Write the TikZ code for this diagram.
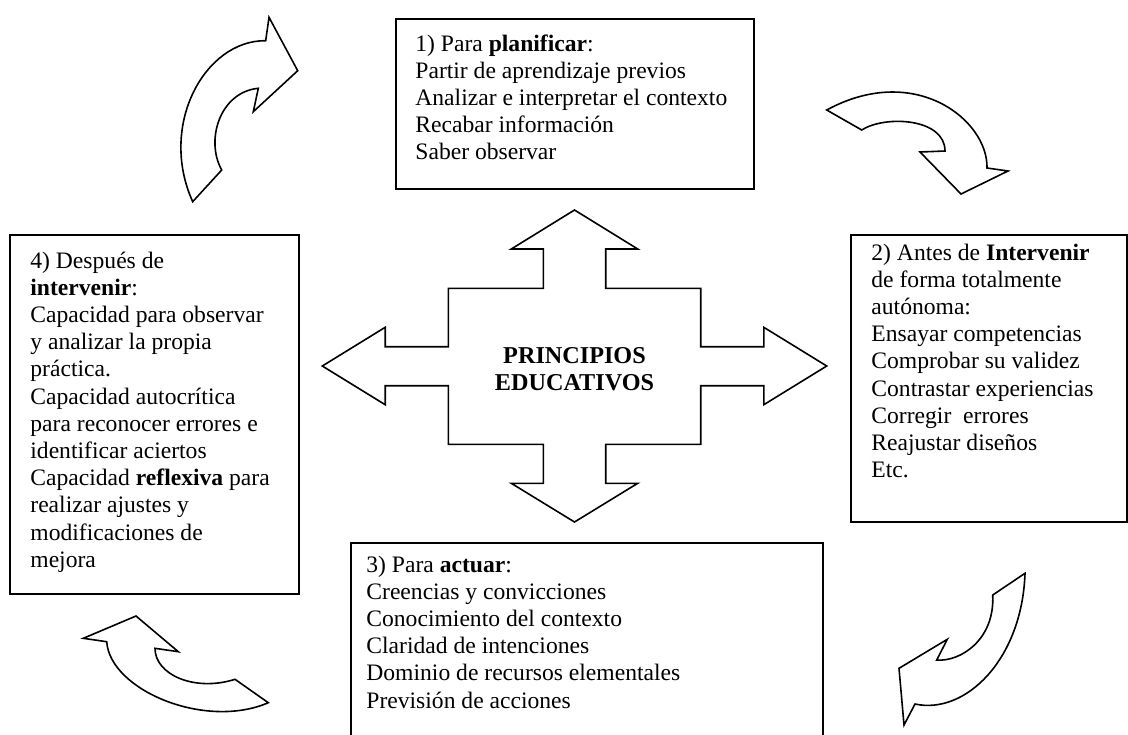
\documentclass[tikz,border=0pt]{standalone}
\usepackage{fontspec}
\setmainfont{Liberation Serif}
\usetikzlibrary{positioning}

\begin{document}
\begin{tikzpicture}[x=0.5pt, y=-0.5pt,
    box/.style n args={2}{draw, line width=0.8pt, minimum width=#1, minimum height=#2, anchor=north west, inner sep=0pt},
    txt/.style={anchor=base west, align=left, inner sep=0pt, font=\fontsize{11.8}{13.6}\selectfont},
    curvy/.style={draw, line width=0.8pt, line join=miter}]
    \clip (0,0) rectangle (1128,734);
    \useasboundingbox (0,0) rectangle (1128,734);

    % the four boxes
    \node[box={179pt}{85pt}] (pla) at (395,18) {};
    \node[box={138pt}{143.5pt}] (ant) at (850,234) {};
    \node[box={236pt}{110pt}] (act) at (350,542) {};
    \node[box={144.5pt}{179.5pt}] (des) at (9,234) {};

    % texts, placed by the baseline of their last line
    \node[txt] (pla-t) at (415,159.8) {1) Para \textbf{planificar}:\\
        Partir de aprendizaje previos\\
        Analizar e interpretar el contexto\\
        Recabar información\\
        Saber observar};
    \node[txt] (ant-t) at (871,477.6) {2) Antes de \textbf{Intervenir}\\
        de forma totalmente\\
        autónoma:\\
        Ensayar competencias\\
        Comprobar su validez\\
        Contrastar experiencias\\
        Corregir \ errores\\
        Reajustar diseños\\
        Etc.};
    \node[txt] (act-t) at (366,708) {3) Para \textbf{actuar}:\\
        Creencias y convicciones\\
        Conocimiento del contexto\\
        Claridad de intenciones\\
        Dominio de recursos elementales\\
        Previsión de acciones};
    \node[txt] (des-t) at (30,567.2) {4) Después de\\
        \textbf{intervenir}:\\
        Capacidad para observar\\
        y analizar la propia\\
        práctica.\\
        Capacidad autocrítica\\
        para reconocer errores e\\
        identificar aciertos\\
        Capacidad \textbf{reflexiva} para\\
        realizar ajustes y\\
        modificaciones de\\
        mejora};

    % central cross
    \draw[curvy] (574.5,210) -- (637.7,249) -- (605.7,249) -- (605.7,288.3) -- (700.7,288.3)
        -- (700.7,346.7) -- (763.8,346.7) -- (763.8,327.3) -- (826.7,366) -- (763.8,404.7)
        -- (763.8,385.7) -- (700.7,385.7) -- (700.7,444.3) -- (605.7,444.3) -- (605.7,483.3)
        -- (637.7,483.3) -- (574.5,522) -- (511.3,483.3) -- (543.3,483.3) -- (543.3,444.3)
        -- (448.3,444.3) -- (448.3,385.7) -- (385.2,385.7) -- (385.2,404.7) -- (322.3,366)
        -- (385.2,327.3) -- (385.2,346.7) -- (448.3,346.7) -- (448.3,288.3) -- (543.3,288.3)
        -- (543.3,249) -- (511.3,249) -- cycle;
    \node[anchor=center, align=center, inner sep=0pt, font=\fontsize{12.1}{13.5}\selectfont\bfseries] (pe) at (574.5,369.5) {PRINCIPIOS\\EDUCATIVOS};

    % curved arrows
    \draw[curvy] (192.7,201.7) -- (221.7,170) .. controls (205,140) and (220,92) .. (258.3,88.3)
        -- (253.3,111.7) -- (297.7,70.7) -- (269,17.3) -- (265.7,40.7)
        .. controls (205,40) and (158,125) .. (192.7,201.7) -- cycle;
    \draw[curvy] (826.7,110) -- (861.7,130) .. controls (885,115) and (945,118) .. (945,151)
        -- (920,152) -- (961,194) -- (1008,171) -- (987,168)
        .. controls (988,120) and (915,62) .. (826.7,110) -- cycle;
    \draw[curvy] (1025,573.3) -- (992.7,595) .. controls (995,640) and (960,662) .. (936.7,660)
        -- (947.3,639.3) -- (899,668.3) -- (904,725) -- (915,704)
        .. controls (965,715) and (1022,660) .. (1025,573.3) -- cycle;
    \draw[curvy] (268.3,702.7) -- (235,679.3) .. controls (195,692) and (155,675) .. (155,648.3)
        -- (178.3,651.7) -- (136,616) -- (83.3,638.3) -- (106.7,641.7)
        .. controls (110,690) and (205,730) .. (268.3,702.7) -- cycle;
\end{tikzpicture}
\end{document}
